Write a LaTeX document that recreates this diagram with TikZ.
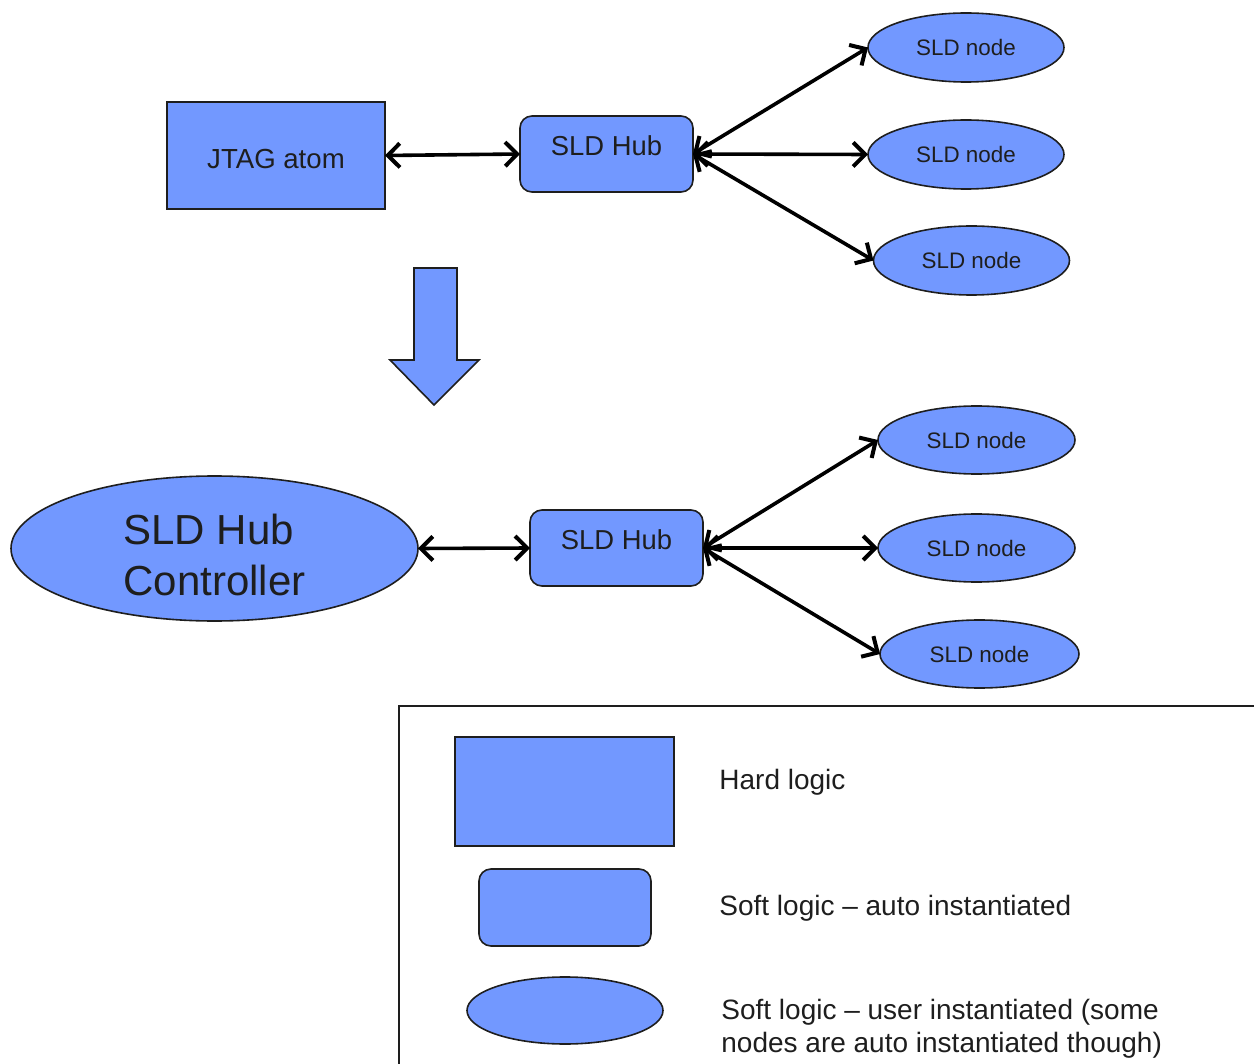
\documentclass[tikz,border=0pt]{standalone}
\usepackage{fontspec}
\setmainfont{Liberation Sans}
\usepackage{tikz}
\usetikzlibrary{shapes.geometric,arrows.meta}
\definecolor{logicblue}{RGB}{114,152,255}
\definecolor{inkgray}{RGB}{30,30,30}

\begin{document}
\begin{tikzpicture}[x=0.5pt,y=-0.5pt]
    \tikzstyle{hard}=[draw=inkgray,fill=logicblue,line width=0.8pt,inner sep=0pt,outer sep=0pt,text=inkgray]
    \tikzstyle{soft}=[hard,rounded corners=6pt]
    \tikzstyle{user}=[hard,ellipse]
    \tikzstyle{link}=[line width=1.8pt,{Straight Barb[length=6pt,width=12pt,line width=2pt]}-{Straight Barb[length=6pt,width=12pt,line width=2pt]}]
    \tikzstyle{legendtext}=[anchor=west,inner sep=0pt,text=inkgray,font=\fontsize{14}{16.5}\selectfont,align=left]

    \useasboundingbox (0,0) rectangle (1254,1064);

    % top half: JTAG atom
    \node[hard,minimum width=109pt,minimum height=53.5pt,text height=13.5pt,font=\fontsize{13.8}{16}\selectfont](1jtag) at (276,155.5) {JTAG atom};
    \node[soft,minimum width=86.5pt,minimum height=38pt,text depth=8pt,font=\fontsize{13.7}{16}\selectfont](1hub) at (606.5,154) {SLD Hub};
    \node[user,minimum width=98pt,minimum height=34.5pt,font=\fontsize{11.2}{13}\selectfont](1node1) at (966,47.5) {SLD node};
    \node[user,minimum width=98pt,minimum height=34.5pt,font=\fontsize{11.2}{13}\selectfont](1node2) at (966,154.5) {SLD node};
    \node[user,minimum width=98pt,minimum height=34.5pt,font=\fontsize{11.2}{13}\selectfont](1node3) at (971.5,260.5) {SLD node};

    \draw[link] (1jtag.east) -- (1hub.west);
    \draw[link] (1hub.east) -- (1node1.west);
    \draw[link] (1hub.east) -- (1node2.west);
    \draw[link] (1hub.east) -- (1node3.west);

    % big arrow between the halves
    \draw[hard] (414,268) -- (457,268) -- (457,360) -- (479,360) -- (434,405) -- (390,360) -- (414,360) -- cycle;

    % bottom half: hub controller
    \node[user,minimum width=203.5pt,minimum height=72.5pt,align=left,font=\fontsize{21}{25.5}\selectfont](2ctrl) at (214.5,548.5) {\rule{0pt}{21.5pt}SLD Hub\\Controller};
    \node[soft,minimum width=86.5pt,minimum height=38pt,text depth=8pt,font=\fontsize{13.7}{16}\selectfont](2hub) at (616.5,548) {SLD Hub};
    \node[user,minimum width=98.5pt,minimum height=34pt,font=\fontsize{11.2}{13}\selectfont](2node1) at (976.5,440) {SLD node};
    \node[user,minimum width=98.5pt,minimum height=34pt,font=\fontsize{11.2}{13}\selectfont](2node2) at (976.5,548) {SLD node};
    \node[user,minimum width=99.5pt,minimum height=34pt,font=\fontsize{11.2}{13}\selectfont](2node3) at (979.5,654) {SLD node};

    \draw[link] (2ctrl.east) -- (2hub.west);
    \draw[link] (2hub.east) -- (2node1.west);
    \draw[link] (2hub.east) -- (2node2.west);
    \draw[link] (2hub.east) -- (2node3.west);

    % legend
    \draw[inkgray,line width=0.8pt] (399,706) rectangle (1280,1090);
    \node[hard,minimum width=109.5pt,minimum height=54.5pt](keyhard) at (564.5,791.5) {};
    \node[soft,minimum width=86pt,minimum height=38.5pt](keysoft) at (565,907.5) {};
    \node[user,minimum width=98pt,minimum height=33.5pt](keyuser) at (565,1010.5) {};
    \node[legendtext](keyhardtext) at (719,782) {Hard logic};
    \node[legendtext](keysofttext) at (719,908) {Soft logic -- auto instantiated};
    \node[legendtext](keyusertext) at (721,1029) {Soft logic -- user instantiated (some\\nodes are auto instantiated though)};
\end{tikzpicture}
\end{document}
